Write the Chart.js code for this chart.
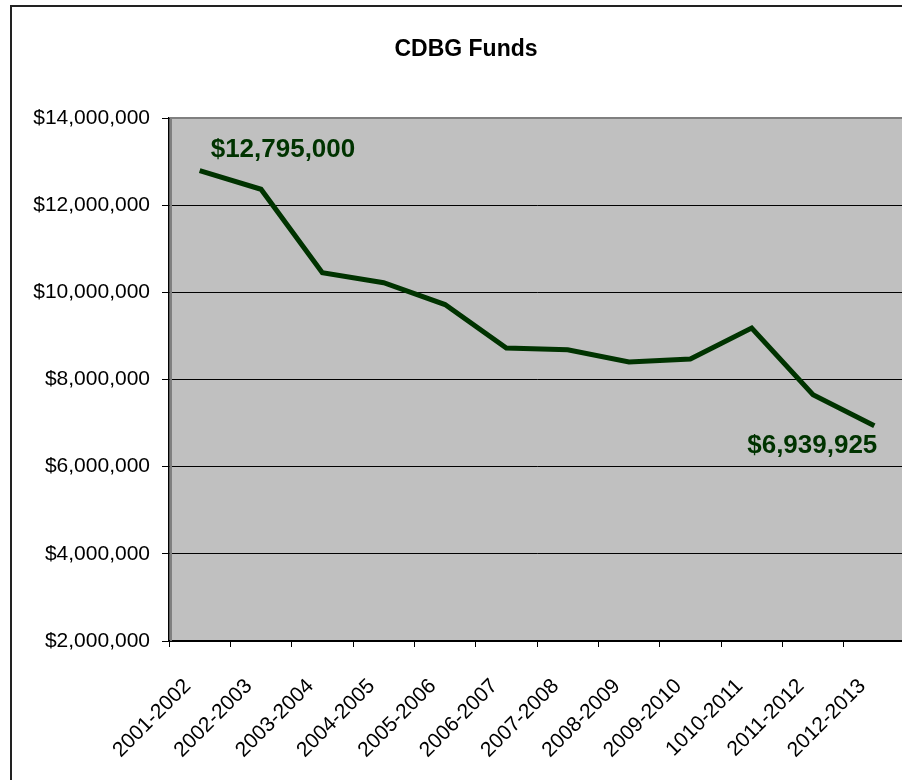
<!DOCTYPE html>
<html><head><meta charset="utf-8">
<script src="https://cdn.jsdelivr.net/npm/chart.js@4.4.1/dist/chart.umd.min.js"></script>
<style>html,body{margin:0;padding:0;overflow:hidden;background:#fff}canvas{display:block}</style>
</head><body>
<canvas id="c" width="932" height="780" style="width:932px;height:780px"></canvas>
<script>
const categories = ["2001-2002","2002-2003","2003-2004","2004-2005","2005-2006","2006-2007","2007-2008","2008-2009","2009-2010","1010-2011","2011-2012","2012-2013"];
const funds = [12795000, 12365000, 10450000, 10220000, 9720000, 8720000, 8680000, 8400000, 8470000, 9180000, 7650000, 6939925];
const yAxisMin = 2000000;
const yAxisMax = 14000000;
const yAxisStep = 2000000;
const calloutIndices = [0, 11];
const chartTitle = "CDBG Funds";

const FONT = "'Liberation Sans', Arial, Helvetica, sans-serif";
const LINE_COLOR = '#003300';
const fmt = v => '$' + Math.round(v).toLocaleString('en-US');

const plotStyle = {
  id: 'plotStyle',
  beforeDraw(chart) {
    const {ctx, chartArea: a} = chart;
    ctx.save();
    ctx.fillStyle = '#ffffff';
    ctx.fillRect(0, 0, chart.width, chart.height);
    ctx.fillStyle = '#C0C0C0';
    ctx.fillRect(a.left, a.top, a.right - a.left, a.bottom - a.top);
    ctx.strokeStyle = '#222222';
    ctx.lineWidth = 2;
    ctx.beginPath();
    ctx.moveTo(11, chart.height + 5);
    ctx.lineTo(11, 6);
    ctx.lineTo(chart.width + 5, 6);
    ctx.stroke();
    ctx.restore();
  },
  beforeDatasetsDraw(chart) {
    const {ctx, chartArea: a} = chart;
    ctx.save();
    ctx.strokeStyle = '#808080';
    ctx.lineWidth = 2;
    ctx.beginPath();
    ctx.moveTo(a.left + 2, a.bottom);
    ctx.lineTo(a.left + 2, a.top);
    ctx.lineTo(a.right + 40, a.top);
    ctx.stroke();
    ctx.restore();
  },
  afterDatasetsDraw(chart) {
    const {ctx} = chart;
    const meta = chart.getDatasetMeta(0);
    ctx.save();
    ctx.fillStyle = LINE_COLOR;
    ctx.font = 'bold 26px ' + FONT;
    ctx.textBaseline = 'middle';
    calloutIndices.forEach((i, k) => {
      const p = meta.data[i];
      const txt = fmt(funds[i]);
      if (k === 0) {
        ctx.textAlign = 'left';
        ctx.fillText(txt, p.x + 11, p.y - 21);
      } else {
        ctx.textAlign = 'right';
        ctx.fillText(txt, p.x + 3, p.y + 20);
      }
    });
    ctx.restore();
  }
};

new Chart(document.getElementById('c'), {
  type: 'line',
  data: {
    labels: categories,
    datasets: [{
      data: funds,
      borderColor: LINE_COLOR,
      backgroundColor: LINE_COLOR,
      borderWidth: 5,
      pointRadius: 0,
      pointHoverRadius: 0,
      tension: 0,
      fill: false
    }]
  },
  options: {
    responsive: false,
    devicePixelRatio: 1,
    animation: false,
    events: [],
    layout: { padding: { left: 27, right: 27, top: 0, bottom: 0 } },
    plugins: {
      legend: { display: false },
      tooltip: { enabled: false },
      title: {
        display: true,
        text: chartTitle,
        color: '#000',
        font: { family: FONT, size: 23, weight: 'bold' },
        padding: { top: 36, bottom: 54.4 }
      }
    },
    scales: {
      x: {
        type: 'category',
        offset: true,
        afterFit(s) { s.height = 139; },
        grid: { display: true, drawOnChartArea: false, drawTicks: true, tickLength: 6, color: '#000', offset: true, lineWidth: 1 },
        border: { display: true, color: '#000', width: 1.5 },
        ticks: { autoSkip: false, maxRotation: 45, minRotation: 45, color: '#000', font: { family: FONT, size: 21 }, padding: 27, labelOffset: -12 }
      },
      y: {
        min: yAxisMin,
        max: yAxisMax,
        afterFit(s) { s.width = 142; },
        afterBuildTicks(s) {
          const t = [];
          for (let v = yAxisMin; v <= yAxisMax; v += yAxisStep) t.push({ value: v });
          s.ticks = t;
        },
        grid: { color: '#000', lineWidth: 1, tickLength: 7, drawTicks: true },
        border: { display: true, color: '#000', width: 1.5 },
        ticks: { color: '#000', font: { family: FONT, size: 21 }, padding: 12, callback: v => fmt(v) }
      }
    }
  },
  plugins: [plotStyle]
});
</script>
</body></html>
